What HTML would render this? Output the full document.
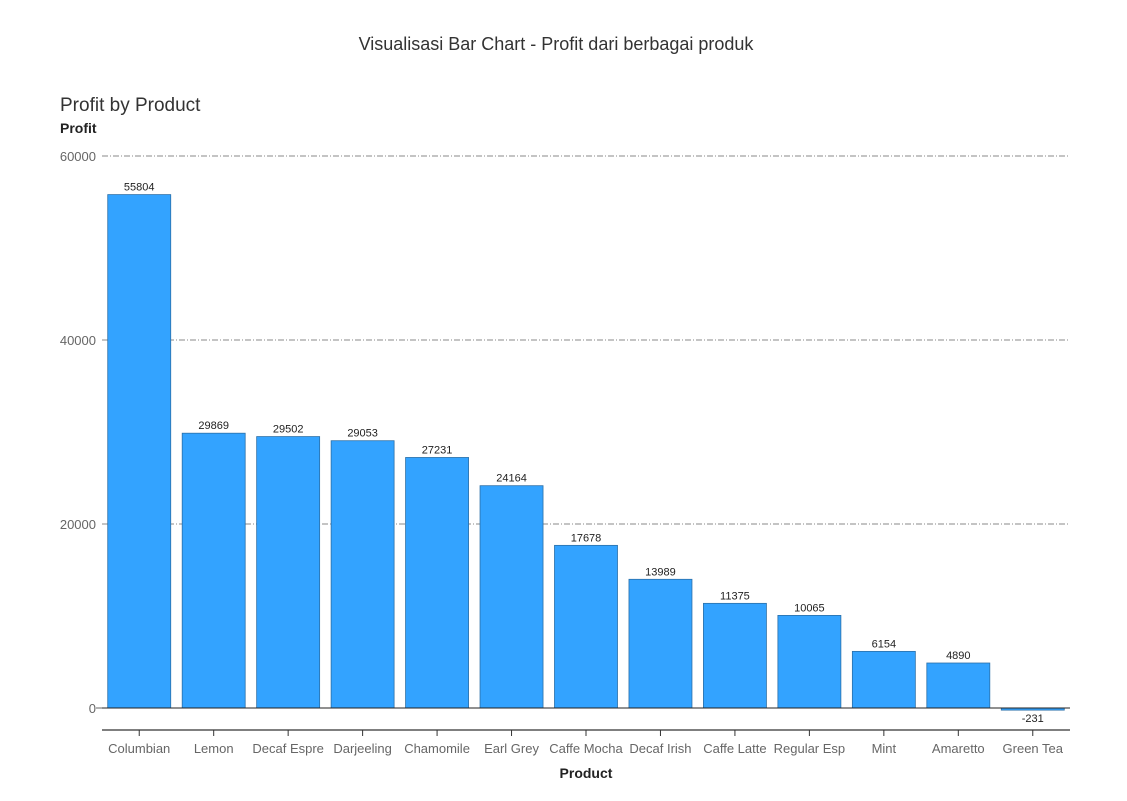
<!DOCTYPE html>
<html><head><meta charset="utf-8"><style>
body{margin:0;background:#fff;font-family:"Liberation Sans",sans-serif;}
</style></head><body>
<svg id="chart" width="1127" height="796" xmlns="http://www.w3.org/2000/svg">
<text x="556" y="50" text-anchor="middle" font-size="18" fill="#333">Visualisasi Bar Chart - Profit dari berbagai produk</text>
<text x="60" y="111" font-size="19" fill="#333">Profit by Product</text>
<text x="60" y="133" font-size="14" font-weight="bold" fill="#222">Profit</text>
<text x="586" y="778" text-anchor="middle" font-size="14" font-weight="bold" fill="#222">Product</text>
<g id="grid"></g><g id="bars"></g><g id="axes"></g>
</svg>
<script>
const categories=["Columbian","Lemon","Decaf Espre","Darjeeling","Chamomile","Earl Grey","Caffe Mocha","Decaf Irish","Caffe Latte","Regular Esp","Mint","Amaretto","Green Tea"];
const profits=[55804,29869,29502,29053,27231,24164,17678,13989,11375,10065,6154,4890,-231];
const yTicks=[0,20000,40000,60000];
const NS="http://www.w3.org/2000/svg";
const x0=102,x1=1070,y0=708,yTop=156,yMax=60000;
const bw=(x1-x0)/categories.length;
function y(v){return y0-(v/yMax)*(y0-yTop);}
function xc(i){return x0+bw*(i+0.5);}
function mk(t,a,p){const e=document.createElementNS(NS,t);for(const k in a)e.setAttribute(k,a[k]);p.appendChild(e);return e;}
const grid=document.getElementById('grid'),bars=document.getElementById('bars'),axes=document.getElementById('axes');
yTicks.forEach(t=>{
  if(t!==0){const l=mk('line',{x1:x0,x2:x1,y1:y(t),y2:y(t),stroke:'#888','stroke-width':1,'stroke-dasharray':'6 2 1 2'},grid);
  
  }
  const tx=mk('text',{x:x0-6,y:y(t)+5,'text-anchor':'end','font-size':13,fill:'#666'},axes);tx.textContent=t;
  
  
});
profits.forEach((v,i)=>{
  const top=Math.min(y(v),y0),h=Math.abs(y(v)-y0);
  const r=mk('rect',{x:xc(i)-31.5,y:top,width:63,height:Math.max(h,0.5),fill:'#33a3ff',stroke:'#2a6fa8','stroke-width':0.8},bars);
  
  
  const lb=mk('text',{x:xc(i),y:v>=0?y(v)-4:y(v)+12,'text-anchor':'middle','font-size':11,fill:'#222'},bars);lb.textContent=v;
  
  
  const tk=mk('line',{x1:xc(i),x2:xc(i),y1:730,y2:736,stroke:'#333'},axes);
  
  
  const cl=mk('text',{x:xc(i),y:753,'text-anchor':'middle','font-size':13,fill:'#666'},axes);cl.textContent=categories[i];
  
  
});
const zl=mk('line',{x1:x0,x2:x1,y1:y0,y2:y0,stroke:'#222','stroke-width':1},axes);


const zt=mk('line',{x1:x0-6,x2:x0,y1:y0,y2:y0,stroke:'#666'},axes);


const xa=mk('line',{x1:x0,x2:x1,y1:730,y2:730,stroke:'#333','stroke-width':1.2},axes);


</script>
</body></html>
